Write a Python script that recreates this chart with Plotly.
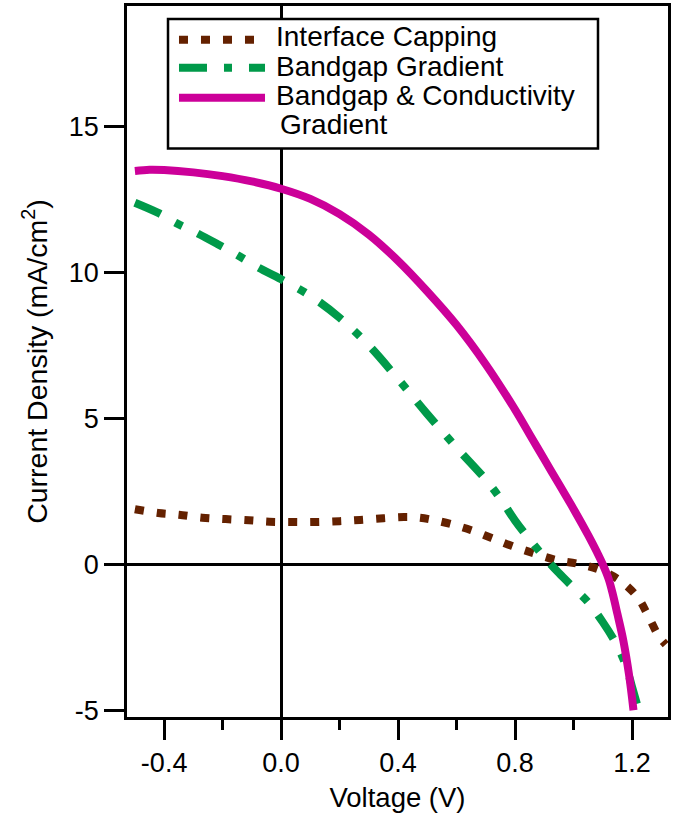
import plotly.graph_objects as go

# ---------------- data ----------------
v_capping = [-0.50, -0.42, -0.35, -0.27, -0.19, -0.11, -0.04, 0.04, 0.12, 0.20, 0.27, 0.35,
             0.42, 0.47, 0.52, 0.58, 0.65, 0.72, 0.79, 0.87, 0.94, 1.015, 1.09, 1.16,
             1.22, 1.255, 1.29, 1.315]
j_capping = [1.89, 1.76, 1.70, 1.60, 1.55, 1.51, 1.46, 1.45, 1.45, 1.48, 1.52, 1.58,
             1.62, 1.60, 1.52, 1.38, 1.17, 0.90, 0.63, 0.36, 0.15, 0.02, -0.19, -0.56,
             -1.14, -1.76, -2.44, -2.75]

v_bandgap = [-0.50, -0.42, -0.36, -0.29, -0.215, -0.15, -0.08, 0.00, 0.10, 0.20, 0.30, 0.40,
             0.50, 0.60, 0.70, 0.75, 0.80, 0.85, 0.90, 0.95, 1.00, 1.05, 1.10, 1.15,
             1.18, 1.20, 1.22]
j_bandgap = [12.39, 12.04, 11.7, 11.36, 10.96, 10.6, 10.18, 9.77, 9.2, 8.45, 7.5, 6.35,
             5.15, 4.0, 2.9, 2.25, 1.5, 0.85, 0.25, -0.3, -0.8, -1.3, -1.98, -2.8,
             -3.5, -4.2, -4.9]

v_conduct = [-0.50, -0.45, -0.40, -0.30, -0.20, -0.10, 0.00, 0.10, 0.20, 0.30, 0.40, 0.50,
             0.60, 0.70, 0.80, 0.85, 0.90, 0.95, 1.00, 1.05, 1.08, 1.10, 1.12, 1.135,
             1.15, 1.17, 1.19, 1.205]
j_conduct = [13.48, 13.52, 13.51, 13.43, 13.3, 13.12, 12.87, 12.52, 12.0, 11.3, 10.4, 9.35,
             8.2, 6.85, 5.3, 4.45, 3.6, 2.75, 1.9, 1.0, 0.42, 0.0, -0.5, -1.05,
             -1.7, -2.6, -3.8, -5.0]

names = ["Interface Capping", "Bandgap Gradient", "Bandgap & Conductivity Gradient"]
legend_lines = [["Interface Capping"], ["Bandgap Gradient"], ["Bandgap & Conductivity", "Gradient"]]

x_tickvals = [-0.4, 0.0, 0.4, 0.8, 1.2]
x_ticktext = ["-0.4", "0.0", "0.4", "0.8", "1.2"]
y_tickvals = [-5, 0, 5, 10, 15]
y_ticktext = ["-5", "0", "5", "10", "15"]

# ---------------- styles ----------------
FONT = "Liberation Sans, Arial, Helvetica, sans-serif"
colors = ["#642100", "#009A4A", "#CC0099"]
dashes = ["9px,13px", "28px,17px,8px,17px", "solid"]
series = [(v_capping, j_capping), (v_bandgap, j_bandgap), (v_conduct, j_conduct)]

fig = go.Figure()
for (xs, ys), nm, col, dsh in zip(series, names, colors, dashes):
    fig.add_trace(go.Scatter(x=xs, y=ys, mode="lines", name=nm, showlegend=False,
                             line=dict(color=col, width=8, dash=dsh, shape="spline", smoothing=1.0)))

axis_common = dict(showline=True, linecolor="black", linewidth=2.5, mirror=True,
                   showgrid=False, zeroline=True, zerolinecolor="black", zerolinewidth=2.5,
                   ticks="outside", ticklen=20, tickwidth=2.5, tickcolor="black",
                   tickfont=dict(family=FONT, size=27, color="black"))

# ---------------- legend box (paper coordinates) ----------------
box = dict(x0=0.0758, x1=0.8706, y0=0.7997, y1=0.9818)
sample_x = (0.0961, 0.2551)
sample_y = [0.9524, 0.9132, 0.8711]
text_x = 0.2718
text_y = [0.9568, 0.9155, 0.8741, 0.8328]

shapes = [dict(type="rect", xref="paper", yref="paper", layer="above",
               fillcolor="white", line=dict(color="black", width=2.5), **box)]
annotations = []
row = 0
for i, (lines, col, dsh) in enumerate(zip(legend_lines, colors, dashes)):
    shapes.append(dict(type="line", xref="paper", yref="paper", layer="above",
                       x0=sample_x[0], x1=sample_x[1], y0=sample_y[i], y1=sample_y[i],
                       line=dict(color=col, width=8, dash=dsh)))
    for k, txt in enumerate(lines):
        annotations.append(dict(text=txt, xref="paper", yref="paper", showarrow=False,
                                x=text_x + (0.007 if k > 0 else 0), y=text_y[row],
                                xanchor="left", yanchor="middle",
                                font=dict(family=FONT, size=28, color="black")))
        row += 1

fig.update_layout(
    width=684, height=818,
    margin=dict(l=127, r=16, t=3, b=101),
    paper_bgcolor="white", plot_bgcolor="white",
    font=dict(family=FONT, size=27, color="black"),
    showlegend=False,
    shapes=shapes,
    annotations=annotations,
    xaxis=dict(range=[-0.527, 1.323], tickmode="array", tickvals=x_tickvals, ticktext=x_ticktext,
               minor=dict(tickmode="linear", tick0=0, dtick=0.2, ticks="outside", ticklen=10,
                          tickwidth=2.5, tickcolor="black", showgrid=False),
               title=dict(text="Voltage (V)", font=dict(family=FONT, size=27.5), standoff=11),
               **axis_common),
    yaxis=dict(range=[-5.23, 19.13], tickmode="array", tickvals=y_tickvals, ticktext=y_ticktext,
               title=dict(text="Current Density (mA/cm<sup>2</sup>)", font=dict(family=FONT, size=28.5), standoff=13),
               **axis_common),
)

fig.write_html("out.html", config={"displayModeBar": False},
               post_script="document.body.style.margin='0px';")
